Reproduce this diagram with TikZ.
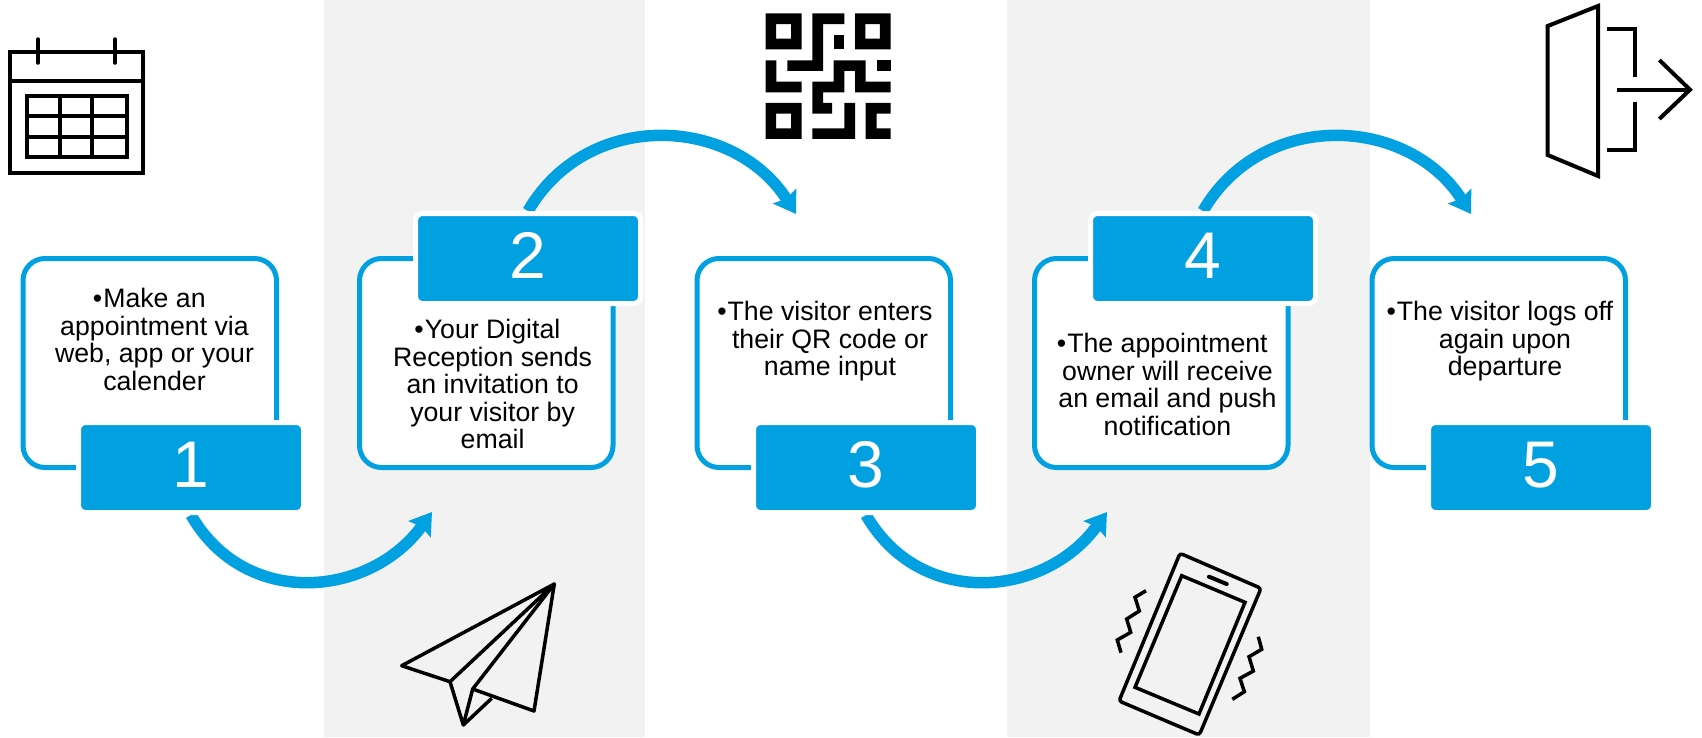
\documentclass[tikz,border=0pt]{standalone}
\usepackage{fontspec}
\setmainfont{Liberation Sans}
\usetikzlibrary{arrows.meta, backgrounds}
\definecolor{stepblue}{HTML}{00A0E1}
\definecolor{bandgray}{HTML}{F2F2F2}
\newcommand{\hangbullet}{\llap{•\kern1pt}}

\begin{document}
\begin{tikzpicture}[
	x=1pt, y=-1pt,
	stepbox/.style={rectangle, draw=stepblue, fill=white, line width=5pt, rounded corners=22pt, minimum width=253.5pt, minimum height=209pt, anchor=north west},
	numbox/.style={rectangle, draw=white, fill=stepblue, line width=5pt, rounded corners=7pt, minimum width=225pt, minimum height=90pt, text depth=6pt, font=\fontsize{66}{66}\selectfont, text=white, anchor=north west},
	steptext/.style={align=center, font=\fontsize{26.7}{27.5}\selectfont, inner sep=0pt, anchor=north},
	flow/.style={draw=stepblue, line width=11.5pt, -{Stealth[length=21pt, width=27pt, inset=3pt]}},
	icon/.style={draw=black, line width=3.5pt},
]
\useasboundingbox (0,0) rectangle (1702,737);

% bands
\begin{scope}[on background layer]
\fill[bandgray] (324,0) rectangle (645,737);
\fill[bandgray] (1007,0) rectangle (1370,737);
\end{scope}

% frames
\node[stepbox] (frame1) at (20.5,256) {};
\node[stepbox] (frame2) at (357,256) {};
\node[stepbox] (frame3) at (694.5,256) {};
\node[stepbox] (frame4) at (1032,256) {};
\node[stepbox] (frame5) at (1369.5,256) {};

% numbers
\node[numbox] (num1) at (76,420) {1};
\node[numbox] (num2) at (413,211) {2};
\node[numbox] (num3) at (751,420) {3};
\node[numbox] (num4) at (1088,211) {4};
\node[numbox] (num5) at (1426,420) {5};

% texts
\node[steptext] (text1) at (154.5,288) {\hangbullet Make an\\appointment via\\web, app or your\\calender};
\node[steptext] (text2) at (492.6,319) {\hangbullet Your Digital\\Reception sends\\an invitation to\\your visitor by\\email};
\node[steptext] (text3) at (830,301.3) {\hangbullet The visitor enters\\their QR code or\\name input};
\node[steptext] (text4) at (1167.5,333) {\hangbullet The appointment\\owner will receive\\an email and push\\notification};
\node[steptext] (text5) at (1505,301) {\hangbullet The visitor logs off\\again upon\\departure};

% arrows
\coordinate (end1) at (432,512);
\coordinate (end2) at (796,214);
\coordinate (end3) at (1107,512);
\coordinate (end4) at (1471,214);
\begin{scope}[on background layer]
\draw[flow] (num1.south) .. controls +(54,94) and +(-62.5,86) .. (end1);
\draw[flow] (num2.north) .. controls +(59,-102) and +(-63,-99) .. (end2);
\draw[flow] (num3.south) .. controls +(54,94) and +(-62.5,86) .. (end3);
\draw[flow] (num4.north) .. controls +(59,-102) and +(-63,-99) .. (end4);
\end{scope}

% calendar
\draw[icon] (10,52) rectangle (143,173);
\draw[icon] (10,81) -- (143,81);
\draw[icon, line cap=round] (38,39) -- (38,63);
\draw[icon, line cap=round] (115,39) -- (115,63);
\draw[icon] (27,96) rectangle (127,157);
\draw[icon] (60,96) -- (60,157);
\draw[icon] (92,96) -- (92,157);
\draw[icon] (27,116) -- (127,116);
\draw[icon] (27,137) -- (127,137);

% plane
\draw[icon, line join=round] (554.3,584) -- (401.7,665.7) -- (450,681.7) -- cycle;
\draw[icon, line join=round] (450,681.7) -- (463.3,725) -- (472.7,689) -- (554.3,584) -- (534,711) -- (472.7,689);
\draw[icon] (463.3,725) -- (491.7,698.3);

% qr code
\begin{scope}[shift={(750,0)}, x=0.3333pt, y=-0.3333pt]
\fill[even odd rule] (47,40) rectangle (155,148) (78,72) rectangle (123,116);
\fill[even odd rule] (315,40) rectangle (422,148) (346,72) rectangle (390,116);
\fill[even odd rule] (47,309) rectangle (155,417) (78,341) rectangle (123,385);
\fill (187,40) -- (283,40) -- (283,72) -- (219,72) -- (219,213) -- (112,213) -- (112,181) -- (187,181) -- cycle;
\fill (251,104) rectangle (283,148);
\fill (47,181) -- (79,181) -- (79,245) -- (155,245) -- (155,277) -- (47,277) -- cycle;
\fill (380,181) rectangle (422,213);
\fill (251,181) -- (347,181) -- (347,245) -- (422,245) -- (422,277) -- (315,277) -- (315,213) -- (283,213) -- (283,277) -- (219,277) -- (219,309) -- (246,309) -- (246,341) -- (187,341) -- (187,245) -- (251,245) -- cycle;
\fill (283,309) -- (315,309) -- (315,417) -- (187,417) -- (187,385) -- (283,385) -- cycle;
\fill (347,309) -- (422,309) -- (422,341) -- (380,341) -- (380,385) -- (422,385) -- (422,417) -- (347,417) -- cycle;
\end{scope}

% phone
\draw[icon, rounded corners=3pt] (1180,553.3) -- (1261,588.3) -- (1199.3,735) -- (1119,701) -- cycle;
\draw[icon] (1181.7,575.7) -- (1245,602.3) -- (1199,714) -- (1135,687.3) -- cycle;
\draw[icon, line width=4pt, line cap=round] (1209,576.7) -- (1226.7,584);
\draw[icon] (1146,590.7) -- (1135,597.3) -- (1139.3,611) -- (1126.7,619) -- (1130.7,632.3) -- (1117.3,640) -- (1121,652.7);
\draw[icon] (1258.3,636.7) -- (1261.7,649.3) -- (1249,656.7) -- (1253.3,671) -- (1240,678.3) -- (1244.3,691.7) -- (1232.3,699.3);

% door
\draw[icon, line width=4pt] (1598,6) -- (1598,176) -- (1547.7,155) -- (1547.7,26) -- cycle;
\draw[icon, line width=4pt] (1606.7,29.3) -- (1635,29.3) -- (1635,77.3);
\draw[icon, line width=4pt] (1635,101.7) -- (1635,150.3) -- (1606.7,150.3);
\draw[icon, line width=4pt] (1617,89.7) -- (1690,89.7);
\draw[icon, line width=4pt] (1659.3,60) -- (1690,89.7) -- (1659.3,119);
\end{tikzpicture}
\end{document}
